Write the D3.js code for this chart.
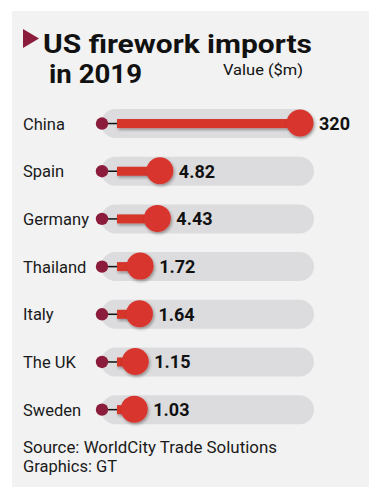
<!DOCTYPE html>
<html>
<head>
<meta charset="utf-8">
<script src="https://cdn.jsdelivr.net/npm/d3@7"></script>
<style>
  html,body{margin:0;padding:0;background:#fff;}
  svg{display:block;}
</style>
</head>
<body>
<svg id="chart" width="380" height="500"></svg>
<script>
const countries = ["China","Spain","Germany","Thailand","Italy","The UK","Sweden"];
const values = [320, 4.82, 4.43, 1.72, 1.64, 1.15, 1.03];
const valueLabels = ["320","4.82","4.43","1.72","1.64","1.15","1.03"];
const titleLines = ["US firework imports","in 2019"];
const unitLabel = "Value ($m)";
const sourceLines = ["Source: WorldCity Trade Solutions","Graphics: GT"];

const svg = d3.select("#chart");
const font = "Roboto, 'DejaVu Sans', sans-serif";

const defs = svg.append("defs");
const f = defs.append("filter").attr("id","sh").attr("x","-30%").attr("y","-30%").attr("width","170%").attr("height","170%");
f.append("feDropShadow").attr("dx",1.2).attr("dy",1.8).attr("stdDeviation",1.4).attr("flood-color","#000").attr("flood-opacity",0.35);

// panel
svg.append("rect").attr("x",12).attr("y",11).attr("width",357).attr("height",476).attr("fill","#f2f2f2");

// title
svg.append("path").attr("d","M23,29 L39,38.5 L23,48 Z").attr("fill","#8c1c3c");
svg.append("text").attr("x",43).attr("y",52.5).attr("font-family",font).attr("font-weight",700)
  .attr("font-size",26).attr("fill","#111").attr("textLength",269).attr("lengthAdjust","spacingAndGlyphs")
  .text(titleLines[0]);
svg.append("text").attr("x",49).attr("y",83).attr("font-family",font).attr("font-weight",700)
  .attr("font-size",26).attr("fill","#111").attr("textLength",93).attr("lengthAdjust","spacingAndGlyphs")
  .text(titleLines[1]);
svg.append("text").attr("x",223).attr("y",75).attr("font-family",font)
  .attr("font-size",14.5).attr("fill","#111").attr("textLength",80).attr("lengthAdjust","spacingAndGlyphs")
  .text(unitLabel);

const y = d3.scaleBand().domain(countries).range([99.7, 433.5]).padding(0);
const x = d3.scaleLinear().domain([1, 1.7, 5, 320]).range([134, 140, 161, 300]);
const dotX = 102, barStart = 117, trackX0 = 101, trackX1 = 314;

const rows = svg.append("g").selectAll("g").data(countries).join("g")
  .attr("transform", d => `translate(0,${y(d)+y.bandwidth()/2})`);

rows.append("rect").attr("x",trackX0).attr("y",-14.5).attr("width",trackX1-trackX0).attr("height",29)
  .attr("rx",14.5).attr("fill","#dcdcde");

rows.append("text").attr("x",23).attr("y",6).attr("font-family",font).attr("font-size",16.5)
  .attr("fill","#1a1a1a").text(d=>d);

rows.append("line").attr("x1",dotX).attr("x2",barStart+1).attr("y1",0).attr("y2",0)
  .attr("stroke","#111").attr("stroke-width",1.5);

rows.append("rect").attr("x",barStart).attr("y",-4.5).attr("height",9)
  .attr("width",(d,i)=>x(values[i])-barStart).attr("fill","#d6352c").attr("filter","url(#sh)");

rows.append("circle").attr("cx",dotX).attr("cy",0).attr("r",6.2).attr("fill","#8c1c3c");

rows.append("circle").attr("cx",(d,i)=>x(values[i])).attr("cy",-0.5).attr("r",13.5)
  .attr("fill","#d8362d").attr("filter","url(#sh)");

rows.append("text").attr("x",(d,i)=>x(values[i])+19).attr("y",6.5).attr("font-family",font)
  .attr("font-weight",700).attr("font-size",18).attr("fill","#111").text((d,i)=>valueLabels[i]);

svg.append("text").attr("x",23).attr("y",452.5).attr("font-family",font).attr("font-size",16.5)
  .attr("fill","#1a1a1a").attr("textLength",254).attr("lengthAdjust","spacingAndGlyphs").text(sourceLines[0]);
svg.append("text").attr("x",23).attr("y",471.5).attr("font-family",font).attr("font-size",16.5)
  .attr("fill","#1a1a1a").text(sourceLines[1]);
</script>
</body>
</html>
